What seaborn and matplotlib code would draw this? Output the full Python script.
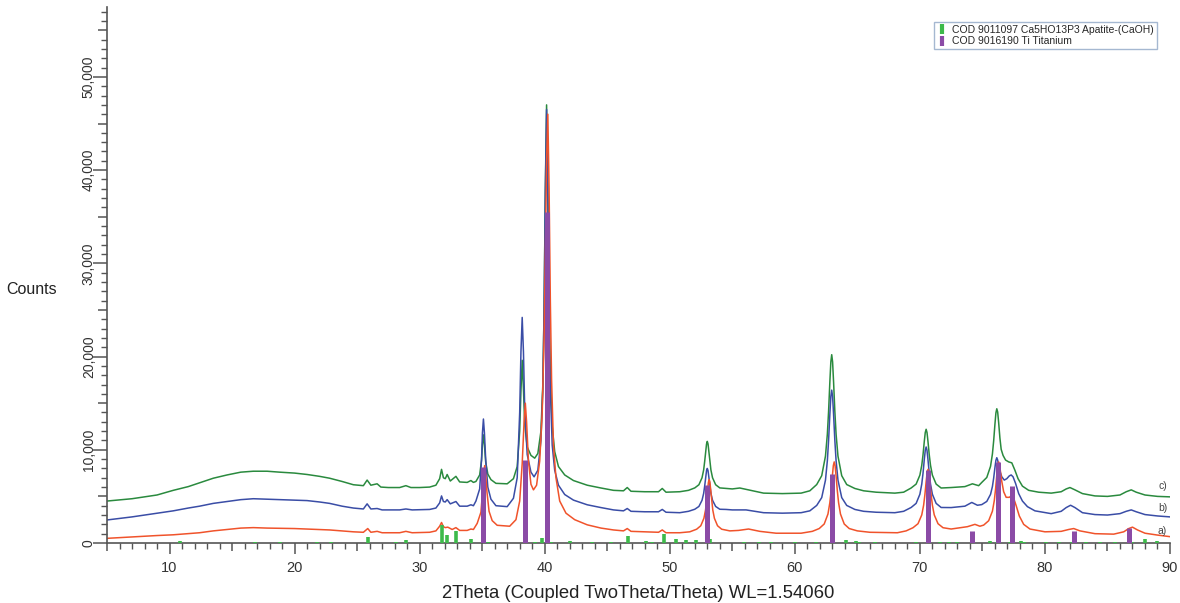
import numpy as np
import pandas as pd
import matplotlib
matplotlib.use("Agg")
import matplotlib.pyplot as plt
import seaborn as sns
from matplotlib.lines import Line2D
from matplotlib.ticker import FixedLocator, FuncFormatter

# ---------------- data ----------------
# c) green pattern: (2theta, counts)
pts_c = [(5,4500),(7,4750),(9,5150),(10.3,5650),(11.5,6050),(12.4,6450),(13.5,6950),(14.6,7300),(15.7,7600),
 (16.7,7700),(17.8,7700),(18.8,7600),(20,7500),(21,7350),(22,7150),(22.8,6950),(23.8,6600),(24.7,6250),
 (25.5,6150),(25.8,6750),(26.1,6200),(26.6,6350),(26.9,6000),(27.5,5950),(28.4,5950),(28.9,6150),(29.3,5950),
 (30.0,5950),(30.8,6000),(31.3,6200),(31.6,6900),(31.75,7900),(31.9,7000),(32.05,6900),(32.2,7350),(32.45,6650),
 (32.9,7150),(33.2,6550),(33.8,6500),(34.1,6700),(34.3,6500),(34.5,6600),(34.8,7300),(34.95,8900),(35.02,10500),
 (35.1,11600),(35.18,10500),(35.28,8700),(35.45,7400),(35.7,6800),(36.1,6400),(37.0,6350),(37.5,6900),(37.8,8200),
 (38.0,12000),(38.1,16300),(38.2,19600),(38.3,16500),(38.4,12800),(38.6,10300),(38.9,9400),(39.2,9100),
 (39.45,9600),(39.7,12000),(39.85,17000),(39.95,25000),(40.05,38000),(40.15,47000),(40.25,38000),(40.35,26000),
 (40.45,18000),(40.6,12500),(40.8,9800),(41.1,8200),(41.6,7300),(42.3,6700),(43.4,6200),(44.5,5900),(45.5,5650),
 (46.3,5600),(46.6,5950),(46.9,5550),(48,5500),(49.1,5500),(49.4,5850),(49.7,5450),(50.8,5500),(51.5,5650),
 (52.0,5910),(52.33,6250),(52.58,7000),(52.71,7840),(52.79,8730),(52.875,9840),(52.94,10620),(53.0,10900),
 (53.06,10620),(53.125,9840),(53.21,8730),(53.29,7840),(53.42,7000),(53.67,6250),(54.0,5910),(54.5,5850),
 (55.0,5800),(55.6,5900),(56.3,5700),(57.5,5350),(59,5300),(60.5,5350),(61.2,5600),(61.75,6270),(62.15,7220),
 (62.45,9320),(62.6,11660),(62.7,14130),(62.8,17240),(62.88,19430),(62.95,20200),(63.02,19430),(63.1,17240),
 (63.2,14130),(63.3,11660),(63.45,9320),(63.75,7220),(64.15,6270),(64.8,5850),(65.5,5600),(66.5,5450),
 (68.0,5350),(68.7,5450),(69.3,5900),(69.7,6320),(70.0,7280),(70.15,8330),(70.25,9450),(70.35,10860),
 (70.43,11850),(70.5,12200),(70.57,11850),(70.65,10860),(70.75,9450),(70.85,8330),(71.0,7280),(71.3,6320),
 (71.7,5900),(72.5,5950),(73.6,6050),(74.2,6350),(74.7,6150),(74.95,6500),(75.35,7030),(75.65,8230),(75.8,9550),
 (75.9,10960),(76.0,12720),(76.08,13960),(76.15,14400),(76.22,14050),(76.3,12900),(76.4,11250),(76.5,10050),
 (76.65,9400),(76.85,8900),(77.1,8700),(77.35,8600),(77.6,7800),(77.85,6900),(78.2,6100),(78.7,5650),
 (79.5,5450),(80.5,5350),(81.3,5500),(81.7,5800),(82.0,5950),(82.4,5700),(83,5300),(84,5050),(85,5000),
 (86,5150),(86.5,5500),(86.9,5700),(87.3,5450),(88,5150),(89,5000),(90,4950)]

# b) blue pattern
pts_b = [(5,2470),(7,2800),(9,3200),(10.3,3450),(11.5,3750),(12.4,3950),(13.5,4250),(14.6,4450),(15.7,4650),
 (16.7,4750),(17.8,4700),(18.8,4650),(20,4600),(21,4550),(22,4400),(22.8,4250),(23.8,3950),(24.7,3750),
 (25.5,3650),(25.8,4200),(26.1,3650),(26.6,3700),(27,3550),(28.4,3550),(28.9,3650),(29.4,3550),(30.8,3600),
 (31.3,3750),(31.6,4300),(31.75,5050),(31.9,4450),(32.05,4400),(32.2,4650),(32.45,4200),(32.9,4450),(33.2,3950),
 (33.8,3950),(34.1,4100),(34.3,4000),(34.5,4500),(34.8,5800),(34.95,9000),(35.02,11800),(35.1,13300),
 (35.18,11800),(35.28,9000),(35.45,6000),(35.7,4700),(36.1,4000),(37.0,3900),(37.5,4800),(37.8,7000),
 (38.0,14000),(38.1,20500),(38.2,24200),(38.3,20500),(38.4,14500),(38.6,9500),(38.9,7600),(39.15,7100),
 (39.45,7800),(39.7,11000),(39.85,16500),(39.95,25000),(40.05,37500),(40.15,46500),(40.25,37000),(40.35,24500),
 (40.45,16500),(40.6,10500),(40.8,7800),(41.1,6200),(41.6,5200),(42.3,4600),(43.4,4100),(44.5,3800),(45.5,3550),
 (46.3,3450),(46.6,3700),(46.9,3400),(48,3350),(49.1,3350),(49.4,3600),(49.7,3300),(50.8,3250),(51.5,3400),
 (52.0,3620),(52.33,3920),(52.58,4580),(52.71,5320),(52.79,6090),(52.875,7070),(52.94,7760),(53.0,8000),
 (53.06,7760),(53.125,7070),(53.21,6090),(53.29,5320),(53.42,4580),(53.67,3920),(54.0,3620),(54.5,3600),
 (55.0,3550),(56.1,3550),(57.5,3250),(59,3200),(60.5,3250),(61.2,3450),(61.75,4030),(62.15,4870),(62.45,6740),
 (62.6,8810),(62.7,11010),(62.8,13770),(62.88,15720),(62.95,16400),(63.02,15720),(63.1,13770),(63.2,11010),
 (63.3,8810),(63.45,6740),(63.75,4870),(64.15,4030),(64.8,3600),(65.5,3400),(66.5,3300),(68.0,3250),
 (68.7,3400),(69.3,3810),(69.7,4250),(70.0,5230),(70.15,6320),(70.25,7470),(70.35,8920),(70.43,9940),
 (70.5,10300),(70.57,9940),(70.65,8920),(70.75,7470),(70.85,6320),(71.0,5230),(71.3,4250),(71.7,3810),
 (72.5,3800),(73.6,3950),(74.15,4350),(74.6,4050),(74.95,4120),(75.35,4460),(75.65,5220),(75.8,6060),(75.9,6960),
 (76.0,8080),(76.08,8870),(76.15,9150),(76.22,8900),(76.3,8300),(76.4,7700),(76.55,7100),(76.75,6750),
 (76.95,6900),(77.15,7200),(77.3,7300),(77.45,7100),(77.65,6400),(77.9,5300),(78.2,4500),(78.6,3900),
 (79.2,3450),(80.5,3150),(81.3,3400),(81.7,3800),(82.05,4050),(82.4,3800),(83,3250),(84,3050),(85,3000),
 (86,3150),(86.5,3400),(86.9,3550),(87.3,3350),(88,3050),(89,2900),(90,2800)]

# a) red pattern
pts_a = [(5,500),(7,650),(9,800),(10.3,880),(11.5,1000),(12.4,1100),(13.5,1300),(14.6,1450),(15.7,1600),
 (16.7,1650),(17.8,1600),(18.8,1580),(20,1550),(21,1500),(22,1450),(22.8,1400),(23.8,1300),(24.7,1200),
 (25.5,1150),(25.85,1550),(26.1,1150),(26.6,1250),(27,1100),(28.4,1100),(28.9,1250),(29.4,1100),(30.8,1150),
 (31.3,1300),(31.6,1800),(31.75,2200),(31.9,1750),(32.05,1650),(32.25,1700),(32.6,1450),(32.9,1650),(33.2,1350),
 (33.8,1350),(34.1,1500),(34.3,1450),(34.6,2100),(34.9,3300),(35.05,5800),(35.13,7500),(35.2,8300),(35.28,7300),
 (35.38,5500),(35.55,3400),(35.8,2400),(36.2,1900),(37.2,1800),(37.7,2500),(38.0,4500),(38.2,8500),(38.35,13000),
 (38.45,15000),(38.55,13000),(38.7,8800),(38.9,6300),(39.1,5700),(39.35,6200),(39.6,8800),(39.8,14000),
 (39.95,22000),(40.05,31000),(40.15,41000),(40.25,46000),(40.35,38000),(40.45,26000),(40.55,17500),(40.7,10500),
 (40.9,7000),(41.2,4500),(41.7,3200),(42.4,2500),(43.4,1950),(44.5,1600),(45.5,1400),(46.3,1300),(46.6,1550),
 (46.9,1250),(48,1200),(49.1,1150),(49.4,1400),(49.7,1100),(50.8,1100),(51.6,1200),(52.15,1480),(52.48,1850),
 (52.73,2650),(52.86,3540),(52.94,4480),(53.025,5670),(53.09,6510),(53.15,6800),(53.21,6510),(53.275,5670),
 (53.36,4480),(53.44,3540),(53.57,2650),(53.82,1850),(54.15,1480),(54.8,1300),(55.5,1350),(56.3,1500),
 (57.2,1250),(58.5,1050),(60.5,1050),(61.4,1250),(61.95,1550),(62.35,2040),(62.65,3110),(62.8,4320),(62.9,5580),
 (63.0,7180),(63.08,8300),(63.15,8700),(63.22,8300),(63.3,7180),(63.4,5580),(63.5,4320),(63.65,3110),
 (63.95,2040),(64.35,1550),(65.0,1300),(66,1150),(68.2,1100),(68.9,1300),(69.45,1640),(69.85,2070),(70.15,3010),
 (70.3,4060),(70.4,5170),(70.5,6570),(70.58,7550),(70.65,7900),(70.72,7550),(70.8,6570),(70.9,5170),(71.0,4060),
 (71.15,3010),(71.45,2070),(71.85,1640),(72.5,1500),(73.8,1750),(74.4,2000),(74.8,1800),(75.1,1920),(75.5,2390),
 (75.8,3410),(75.95,4550),(76.05,5750),(76.15,7260),(76.23,8330),(76.3,8700),(76.37,8400),(76.45,7600),
 (76.55,6600),(76.7,5500),(76.9,4900),(77.15,4900),(77.35,5100),(77.5,4800),(77.7,4000),(77.95,2900),
 (78.3,2000),(78.8,1500),(80,1200),(81.3,1250),(81.9,1450),(82.3,1550),(82.8,1300),(84,1000),(85.5,950),
 (86.3,1200),(86.7,1550),(87.0,1700),(87.4,1400),(88,1050),(89,850),(90,680)]

tth_c, cnt_c = [list(v) for v in zip(*pts_c)]
tth_b, cnt_b = [list(v) for v in zip(*pts_b)]
tth_a, cnt_a = [list(v) for v in zip(*pts_a)]

# reference patterns (stick positions / heights in counts)
ti_pos = [35.09, 38.42, 40.17, 53.00, 62.95, 70.66, 74.16, 76.22, 77.37, 82.29, 86.76]
ti_cnt = [8200, 8900, 35500, 6200, 7400, 7800, 1250, 8700, 6100, 1250, 1650]
hap_pos = [10.8, 16.8, 18.8, 21.8, 22.9, 25.9, 28.1, 28.9, 31.8, 32.2, 32.9, 34.1, 35.5, 39.2, 39.8,
           40.5, 42.0, 43.8, 45.3, 46.7, 48.1, 48.6, 49.5, 50.5, 51.3, 52.1, 53.2, 55.9, 57.1, 58.1,
           60.0, 61.7, 63.0, 64.1, 64.9, 65.1, 66.4, 69.7, 71.6, 72.3, 73.0, 75.6, 76.2, 77.2, 78.1,
           78.3, 80.1, 81.1, 82.2, 83.3, 84.4, 85.6, 87.0, 88.0, 89.0]
hap_cnt = [220, 100, 150, 150, 150, 650, 150, 350, 1900, 900, 1300, 450, 100, 150, 550,
           150, 200, 150, 150, 800, 250, 150, 1000, 450, 350, 350, 400, 150, 150, 150,
           150, 150, 150, 300, 200, 150, 150, 150, 150, 150, 150, 200, 150, 150, 200,
           150, 150, 150, 150, 150, 150, 150, 150, 400, 200]

curve_names = ["a)", "b)", "c)"]
curve_label_y = [1300, 3750, 6100]
legend_labels = ["COD 9011097 Ca5HO13P3 Apatite-(CaOH)", "COD 9016190 Ti Titanium"]
x_ticks = [10, 20, 30, 40, 50, 60, 70, 80, 90]
y_ticks = [0, 10000, 20000, 30000, 40000, 50000]

# ---------------- styling ----------------
sns.set_style("ticks")
plt.rcParams['font.family'] = ['Liberation Sans', 'DejaVu Sans']

col_a = "#F0532B"
col_b = "#3A4DA6"
col_c = "#2A8A3E"
col_ti = "#8B4BA6"
col_hap = "#3DBA4A"
axis_col = "#555555"

fig = plt.figure(figsize=(11.8, 6.03), dpi=100)
ax = fig.add_axes([107 / 1180, 60 / 603, (1170 - 107) / 1180, (596 - 60) / 603])

df = pd.concat([
    pd.DataFrame({"tth": tth_a, "counts": cnt_a, "s": "a)"}),
    pd.DataFrame({"tth": tth_b, "counts": cnt_b, "s": "b)"}),
    pd.DataFrame({"tth": tth_c, "counts": cnt_c, "s": "c)"}),
])
for name, col in zip(["c)", "b)", "a)"], [col_c, col_b, col_a]):
    sub = df[df["s"] == name]
    sns.lineplot(data=sub, x="tth", y="counts", ax=ax, color=col, lw=1.1,
                 sort=False, estimator=None, legend=False, zorder=2)

ax.vlines(hap_pos, 0, hap_cnt, colors=col_hap, lw=2.6, zorder=3)
ax.vlines(ti_pos, 0, ti_cnt, colors=col_ti, lw=3.6, zorder=4)

for nm, yy in zip(curve_names, curve_label_y):
    ax.text(89.4, yy, nm, fontsize=7.5, color="#444444", ha="center", va="center", zorder=5)

ax.set_xlim(5, 90)
ax.set_ylim(0, 57500)

# axes look
for s in ["top", "right"]:
    ax.spines[s].set_visible(False)
for s in ["left", "bottom"]:
    ax.spines[s].set_color(axis_col)
    ax.spines[s].set_linewidth(1.2)

ax.xaxis.set_major_locator(FixedLocator([float(v) for v in range(5, 91, 5)]))
ax.xaxis.set_minor_locator(FixedLocator([float(v) for v in range(5, 91)]))
ax.xaxis.set_major_formatter(FuncFormatter(lambda v, p: f"{int(v)}" if int(round(v)) in x_ticks else ""))
ax.yaxis.set_major_locator(FixedLocator([float(v) for v in range(0, 57001, 5000)]))
ax.yaxis.set_minor_locator(FixedLocator([float(v) for v in range(0, 57501, 1000)]))
ax.yaxis.set_major_formatter(FuncFormatter(lambda v, p: f"{int(v):,}" if int(round(v)) in y_ticks else ""))

ax.tick_params(axis="both", which="major", direction="out", length=7, width=1.1, color=axis_col,
               labelsize=10.5, labelcolor="#333333")
ax.tick_params(axis="y", which="major", labelsize=10)
ax.tick_params(axis="both", which="minor", direction="out", length=4, width=1.0, color=axis_col)
ax.tick_params(axis="x", which="major", pad=6)
ax.tick_params(axis="y", which="major", pad=1)
for lab in ax.get_yticklabels():
    lab.set_rotation(90)
    lab.set_va("center")

# longer ticks at labelled positions
for t, v in zip(ax.yaxis.get_major_ticks(), range(0, 57001, 5000)):
    t.tick1line.set_markersize(10 if v % 10000 == 0 else 6.5)
for t, v in zip(ax.xaxis.get_major_ticks(), range(5, 91, 5)):
    t.tick1line.set_markersize(8 if v % 10 == 0 else 6)

ax.set_xlabel("2Theta (Coupled TwoTheta/Theta) WL=1.54060", fontsize=13.3, color="#222222", labelpad=7)
ax.set_ylabel("")
fig.text(32 / 1180, 1 - 290 / 603, "Counts", fontsize=11.5, color="#222222", ha="center", va="center")

handles = [Line2D([], [], color=col_hap, marker="|", ls="none", markersize=7, markeredgewidth=3),
           Line2D([], [], color=col_ti, marker="|", ls="none", markersize=7, markeredgewidth=3)]
leg = ax.legend(handles, legend_labels, loc="upper right",
                bbox_to_anchor=(1157 / 1180, 1 - 22 / 603), bbox_transform=fig.transFigure,
                fontsize=7.5, frameon=True, fancybox=False, borderpad=0.3, labelspacing=0.1,
                handlelength=0.8, handletextpad=0.6, borderaxespad=0)
leg.get_frame().set_edgecolor("#8FA6C6")
leg.get_frame().set_linewidth(1.0)

fig.savefig("out.png", dpi=100)
